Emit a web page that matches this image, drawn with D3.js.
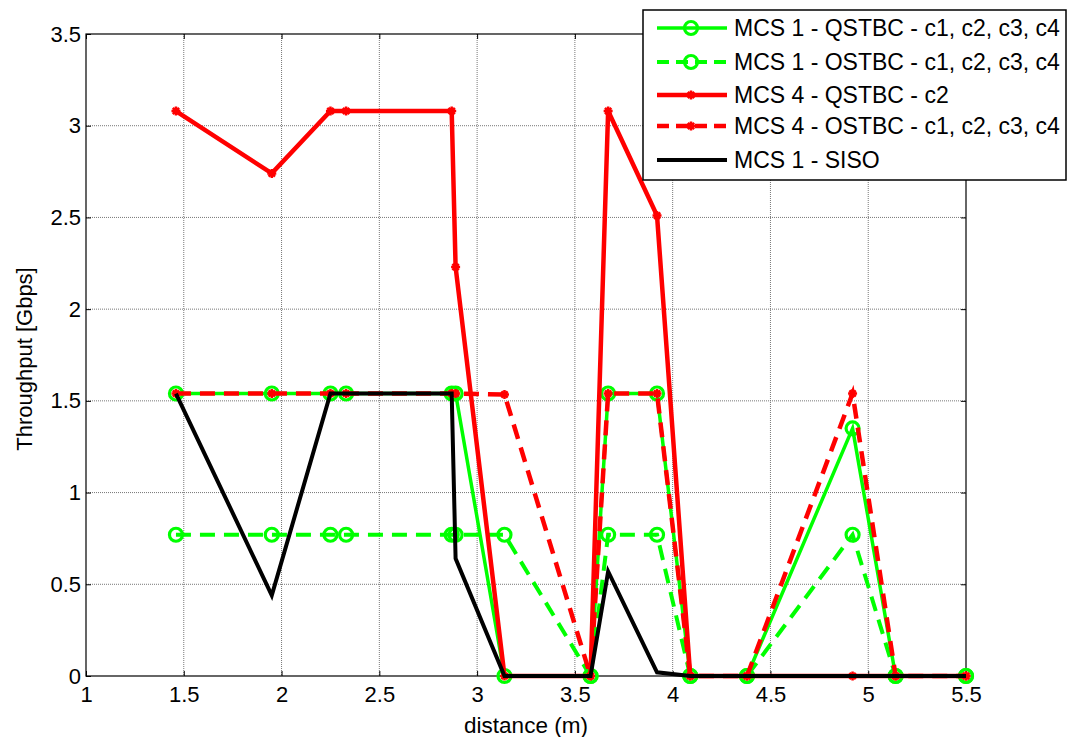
<!DOCTYPE html>
<html>
<head>
<meta charset="utf-8">
<script src="https://cdn.jsdelivr.net/npm/d3@7"></script>
<style>
  body { margin: 0; background: #fff; }
  svg { font-family: "Liberation Sans", Arial, sans-serif; }
</style>
</head>
<body>
<div id="chart"></div>
<script>
// 距離 (m)
const distance = [1.46, 1.95, 2.25, 2.33, 2.87, 2.89, 3.14, 3.58, 3.67, 3.92, 4.09, 4.38, 4.92, 5.14, 5.5];

// 各系列的吞吐量 (Gbps)
const mcs1Qstbc = [1.54, 1.54, 1.54, 1.54, 1.54, 1.54, 0, 0, 1.54, 1.54, 0, 0, 1.35, 0, 0];
const mcs1Ostbc = [0.77, 0.77, 0.77, 0.77, 0.77, 0.77, 0.77, 0, 0.77, 0.77, 0, 0, 0.77, 0, 0];
const mcs4Qstbc = [3.08, 2.74, 3.08, 3.08, 3.08, 2.23, 0, 0, 3.08, 2.51, 0, 0, 0, 0, 0];
const mcs4Ostbc = [1.54, 1.54, 1.54, 1.54, 1.54, 1.54, 1.535, 0, 1.54, 1.54, 0, 0, 1.54, 0, 0];
const mcs1Siso  = [1.54, 0.44, 1.54, 1.54, 1.54, 0.64, 0, 0, 0.57, 0.02, 0, 0, 0, 0, 0];

const xTicks = [1, 1.5, 2, 2.5, 3, 3.5, 4, 4.5, 5, 5.5];
const yTicks = [0, 0.5, 1, 1.5, 2, 2.5, 3, 3.5];

const series = [
  { name: "MCS 1 - QSTBC - c1, c2, c3, c4", values: mcs1Qstbc, color: "#00ff00", dash: null, marker: "o", width: 3.5 },
  { name: "MCS 1 - OSTBC - c1, c2, c3, c4", values: mcs1Ostbc, color: "#00ff00", dash: "15,9", marker: "o", width: 4 },
  { name: "MCS 4 - QSTBC - c2", values: mcs4Qstbc, color: "#ff0000", dash: null, marker: "*", width: 4.5 },
  { name: "MCS 4 - OSTBC - c1, c2, c3, c4", values: mcs4Ostbc, color: "#ff0000", dash: "15,9", marker: "*", width: 4.5 },
  { name: "MCS 1 - SISO", values: mcs1Siso, color: "#000000", dash: null, marker: null, width: 4 }
];

// 設定尺寸
const W = 1067, H = 737;
const margin = { top: 34, right: 101, bottom: 61, left: 86 };
const width = W - margin.left - margin.right;
const height = H - margin.top - margin.bottom;

const svg = d3.select("#chart").append("svg")
  .attr("width", W).attr("height", H);

const g = svg.append("g").attr("transform", `translate(${margin.left},${margin.top})`);

const x = d3.scaleLinear().domain([1, 5.5]).range([0, width]);
const y = d3.scaleLinear().domain([0, 3.5]).range([height, 0]);

// 網格線
g.append("g").selectAll("line").data(xTicks.slice(1, -1)).join("line")
  .attr("x1", d => x(d)).attr("x2", d => x(d)).attr("y1", 0).attr("y2", height)
  .attr("stroke", "#777").attr("stroke-width", 1).attr("stroke-dasharray", "1,1");
g.append("g").selectAll("line").data(yTicks.slice(1, -1)).join("line")
  .attr("y1", d => y(d)).attr("y2", d => y(d)).attr("x1", 0).attr("x2", width)
  .attr("stroke", "#777").attr("stroke-width", 1).attr("stroke-dasharray", "1,1");

// 座標軸 (刻度向內)
g.append("g").attr("transform", `translate(0,${height})`)
  .call(d3.axisBottom(x).tickValues(xTicks).tickFormat(d3.format("")).tickSizeInner(-5).tickSizeOuter(0).tickPadding(10));
g.append("g")
  .call(d3.axisLeft(y).tickValues(yTicks).tickFormat(d3.format("")).tickSizeInner(-5).tickSizeOuter(0).tickPadding(5));
g.append("g").call(d3.axisTop(x).tickValues(xTicks).tickFormat("").tickSizeInner(-5).tickSizeOuter(0));
g.append("g").attr("transform", `translate(${width},0)`)
  .call(d3.axisRight(y).tickValues(yTicks).tickFormat("").tickSizeInner(-5).tickSizeOuter(0));
g.selectAll(".domain").remove();
g.selectAll(".tick line").attr("stroke", "#000");
g.selectAll(".tick text")
  .attr("font-family", "Liberation Sans, Arial, sans-serif")
  .attr("font-size", 22)
  .attr("fill", "#000");

// 外框
g.append("rect").attr("width", width).attr("height", height)
  .attr("fill", "none").attr("stroke", "#000").attr("stroke-width", 1.2);

// 星號標記
const starPath = s => `M${-s},0L${s},0M0,${-s}L0,${s}M${-s * 0.7},${-s * 0.7}L${s * 0.7},${s * 0.7}M${-s * 0.7},${s * 0.7}L${s * 0.7},${-s * 0.7}`;

function drawMarker(sel, marker, color) {
  if (marker === "o") {
    sel.append("circle").attr("r", 6.5).attr("fill", "none")
      .attr("stroke", color).attr("stroke-width", 3.2);
  } else if (marker === "*") {
    sel.append("path").attr("d", starPath(4.5)).attr("fill", "none")
      .attr("stroke", color).attr("stroke-width", 2.5);
  }
}

const line = d3.line().x(d => x(d[0])).y(d => y(d[1]));

series.forEach(s => {
  const pts = distance.map((d, i) => [d, s.values[i]]);
  g.append("path").datum(pts)
    .attr("d", line)
    .attr("fill", "none")
    .attr("stroke", s.color)
    .attr("stroke-width", s.width)
    .attr("stroke-linejoin", "miter")
    .attr("stroke-dasharray", s.dash);
  if (s.marker) {
    g.append("g").selectAll("g").data(pts).join("g")
      .attr("transform", d => `translate(${x(d[0])},${y(d[1])})`)
      .each(function () { drawMarker(d3.select(this), s.marker, s.color); });
  }
});

// 軸標籤
svg.append("text")
  .attr("x", margin.left + width / 2).attr("y", 733)
  .attr("text-anchor", "middle").attr("font-size", 22.5)
  .text("distance (m)");
svg.append("text")
  .attr("transform", `translate(32,${margin.top + height / 2 + 4}) rotate(-90)`)
  .attr("text-anchor", "middle").attr("font-size", 22)
  .text("Throughput [Gbps]");

// 圖例
const legend = svg.append("g").attr("transform", "translate(643,10)");
legend.append("rect").attr("width", 423).attr("height", 170)
  .attr("fill", "#fff").attr("stroke", "#000").attr("stroke-width", 1.5);
const legendY = [18, 52, 85, 116, 150];
series.forEach((s, i) => {
  const row = legend.append("g").attr("transform", `translate(0,${legendY[i]})`);
  row.append("line").attr("x1", 14).attr("x2", 84).attr("y1", 0).attr("y2", 0)
    .attr("stroke", s.color).attr("stroke-width", s.width)
    .attr("stroke-dasharray", s.dash ? "12,7" : null);
  if (s.marker) {
    drawMarker(row.append("g").attr("transform", "translate(48,0)"), s.marker, s.color);
  }
  row.append("text").attr("x", 91).attr("y", 8)
    .attr("font-size", 23).text(s.name);
});
</script>
</body>
</html>
